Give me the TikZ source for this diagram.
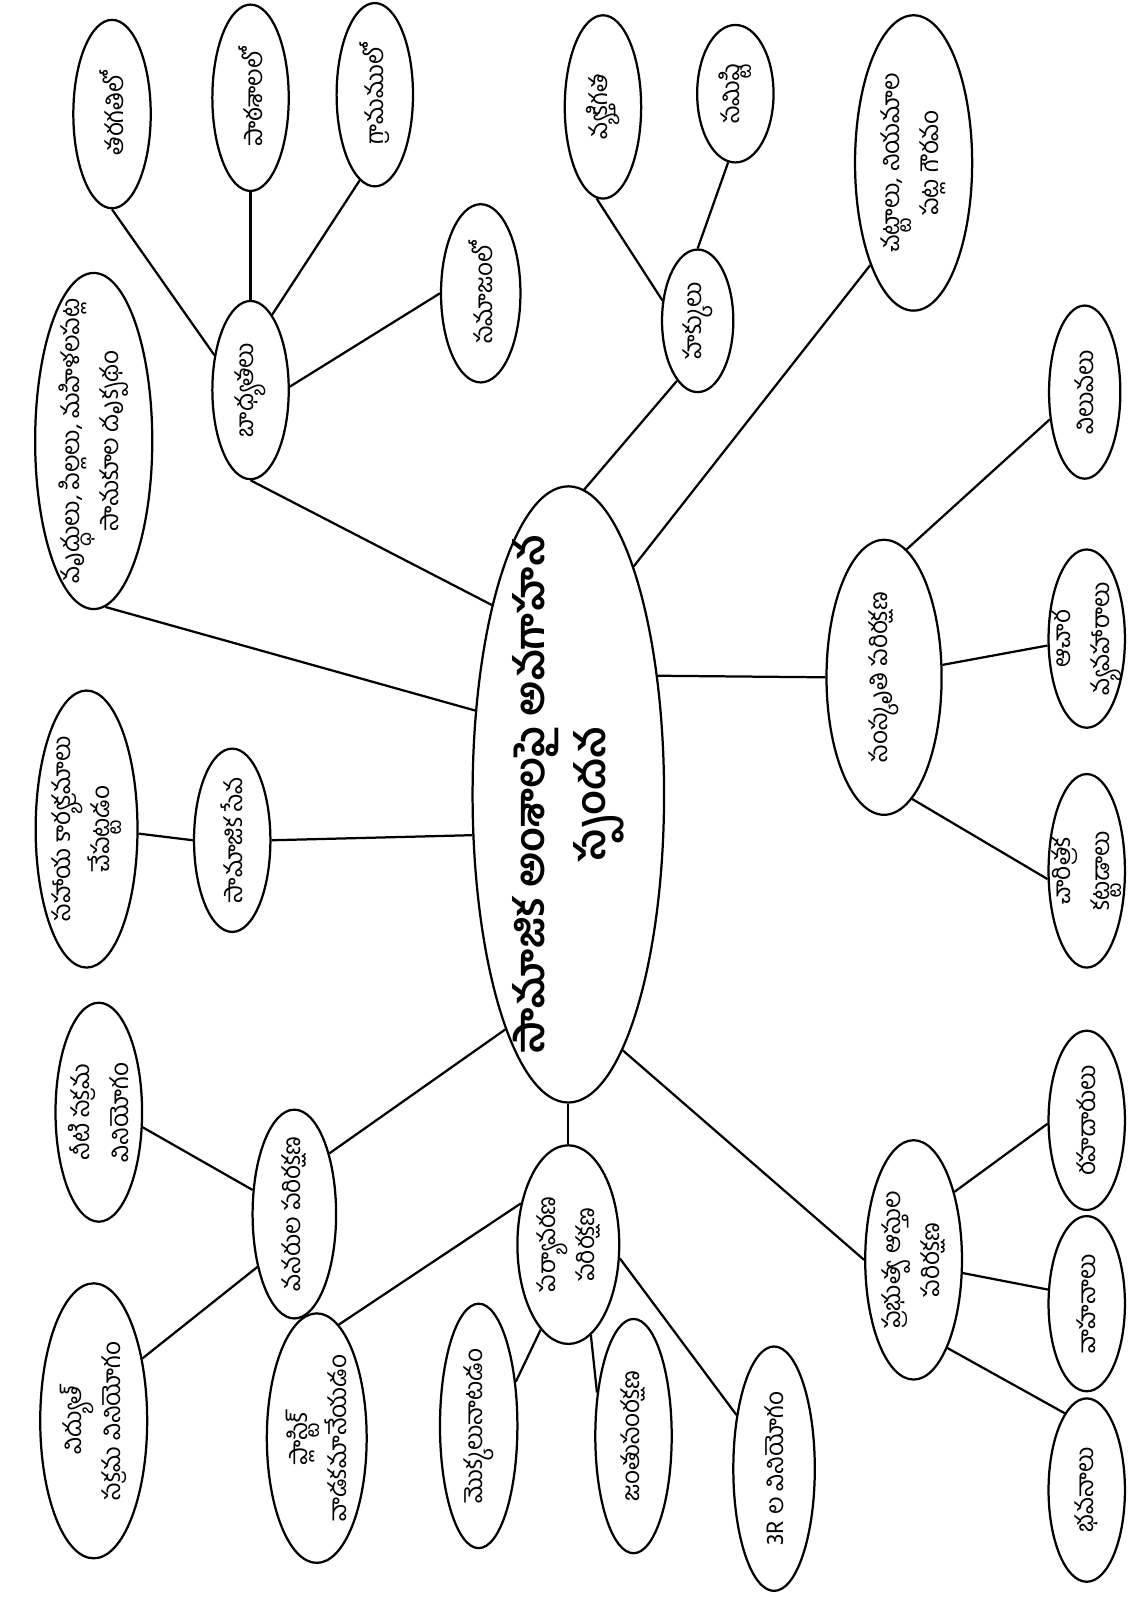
\documentclass[tikz,border=0pt]{standalone}
\usepackage{fontspec}
\newfontfamily\telugu[Script=Telugu]{Hind Guntur}
\usetikzlibrary{shapes.geometric}
\tikzset{
  bubble/.style 2 args={
    ellipse,
    draw=black,
    line width=2.2pt,
    inner sep=0pt,
    minimum width=#1,
    minimum height=#2
  },
  txt/.style={
    rotate=90,
    align=center,
    inner sep=0pt,
    font=\telugu\fontsize{24}{38}\selectfont
  },
  hubtxt/.style={
    rotate=90,
    align=center,
    inner sep=0pt,
    font=\telugu\bfseries\fontsize{40}{60}\selectfont
  },
  link/.style={
    line width=2.2pt,
    draw=black
  }
}

\begin{document}
\begin{tikzpicture}[x=1pt, y=-1pt]
    \useasboundingbox (0,0) rectangle (1108,1568);

    % central topic
    \node[bubble={188}{605}, label={[hubtxt]center:సామాజిక అంశాలపై అవగాహన\\స్పందన}] (hub) at (558,780) {};

    % responsibilities
    \node[bubble={75}{175}, label={[txt]center:బాధ్యతలు}] (badh) at (246,383) {};
    \node[bubble={76}{185}, label={[txt]center:తరగతిలో}] (tarag) at (110,112) {};
    \node[bubble={75}{183}, label={[txt]center:పాఠశాలలో}] (paath) at (246,96) {};
    \node[bubble={75}{180}, label={[txt]center:గ్రామములో}] (gram) at (368,93) {};
    \node[bubble={78}{175}, label={[txt]center:సమాజంలో}] (samaj) at (472,288) {};
    \node[bubble={115}{330}, label={[txt]center:వృద్ధులు, పిల్లలు, మహిళలపట్ల\\సానుకూల దృక్పథం}] (vrud) at (92,433) {};

    % social service
    \node[bubble={75}{180}, label={[txt]center:సామాజిక సేవ}] (seva) at (228,825) {};
    \node[bubble={100}{272}, label={[txt]center:సహాయ కార్యక్రమాలు\\చేపట్టడం}] (sahay) at (85,814) {};

    % resources
    \node[bubble={82}{205}, label={[txt]center:వనరుల పరిరక్షణ}] (vanar) at (289,1192) {};
    \node[bubble={85}{215}, label={[txt]center:నీటి సక్రమ\\వినియోగం}] (neeti) at (97,1092) {};
    \node[bubble={105}{270}, label={[txt]center:విద్యుత్\\సక్రమ వినియోగం}] (vidy) at (92,1395) {};

    % environment
    \node[bubble={100}{195}, label={[txt]center:పర్యావరణ\\పరిరక్షణ}] (parya) at (558,1222) {};
    \node[bubble={98}{245}, label={[txt]center:ప్లాస్టిక్\\వాడకమానేయడం}] (plast) at (311,1412) {};
    \node[bubble={76}{240}, label={[txt]center:మొక్కలునాటడం}] (mokka) at (470,1400) {};
    \node[bubble={75}{230}, label={[txt]center:జంతుసంరక్షణ}] (jantu) at (622,1410) {};
    \node[bubble={80}{240}, label={[txt]center:3R ల వినియోగం}] (tri) at (760,1442) {};

    % public property
    \node[bubble={95}{235}, label={[txt]center:ప్రభుత్వ ఆస్తుల\\పరిరక్షణ}] (prabh) at (897,1237) {};
    \node[bubble={75}{176}, label={[txt]center:రహదారులు}] (rahad) at (1067,1100) {};
    \node[bubble={75}{172}, label={[txt]center:వాహనాలు}] (vaahan) at (1067,1280) {};
    \node[bubble={75}{180}, label={[txt]center:భవనాలు}] (bhavan) at (1067,1463) {};

    % culture
    \node[bubble={113}{270}, label={[txt]center:సంస్కృతి పరిరక్షణ}] (sams) at (868,665) {};
    \node[bubble={70}{170}, label={[txt]center:విలువలు}] (vilu) at (1065,385) {};
    \node[bubble={75}{175}, label={[txt]center:ఆచార\\వ్యవహారాలు}] (aachar) at (1067,627) {};
    \node[bubble={75}{190}, label={[txt]center:చారిత్రక\\కట్టడాలు}] (chaar) at (1067,855) {};

    % rights and laws
    \node[bubble={70}{140}, label={[txt]center:హక్కులు}] (hakk) at (685,315) {};
    \node[bubble={75}{180}, label={[txt]center:వ్యక్తిగత}] (vyak) at (592,105) {};
    \node[bubble={75}{135}, label={[txt]center:సమిష్టి}] (sami) at (722,92) {};
    \node[bubble={115}{290}, label={[txt]center:చట్టాలు, నియమాల\\పట్ల గౌరవం}] (chat) at (897,160) {};

    % spokes from the centre
    \foreach \a/\b in {vrud.-86/hub.138, badh.south/hub.112, hakk.251/hub.87,
                       chat.247/hub.74, sams.west/hub.53, prabh.west/hub.282,
                       parya.north/hub.south, vanar.60/hub.255, seva.east/hub.203}
      \draw[link] (\a) -- (\b);

    % sub branches
    \foreach \a/\b in {tarag.south/badh.136, paath.south/badh.north, gram.260/badh.74,
                       samaj.west/badh.5, vyak.266/hakk.150, sami.264/hakk.north,
                       vilu.218/sams.80, aachar.190/sams.12, chaar.192/sams.-77,
                       rahad.185/prabh.59, vaahan.160/prabh.-15, bhavan.106/prabh.-69,
                       plast.79/parya.139, mokka.50/parya.252, jantu.130/parya.-76,
                       tri.125/parya.-15, neeti.-19/vanar.150, vidy.52/vanar.235,
                       sahay.-5/seva.west}
      \draw[link] (\a) -- (\b);

\end{tikzpicture}
\end{document}
